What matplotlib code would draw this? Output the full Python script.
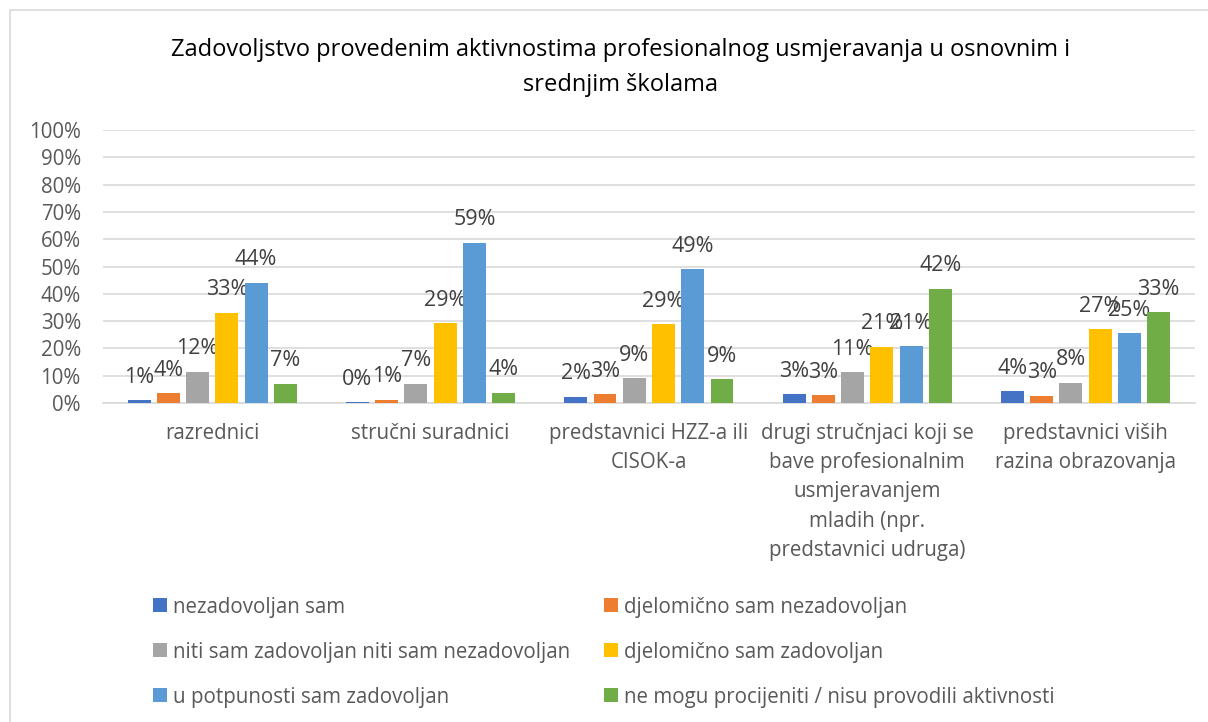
import matplotlib.pyplot as plt
import numpy as np
from matplotlib.patches import Rectangle

plt.rcParams['font.family'] = ['Open Sans', 'DejaVu Sans']

# podaci
categories = ["razrednici", "stručni suradnici", "predstavnici HZZ-a ili\nCISOK-a",
              "drugi stručnjaci koji se\nbave profesionalnim\nusmjeravanjem\nmladih (npr.\npredstavnici udruga)",
              "predstavnici viših\nrazina obrazovanja"]
series = ["nezadovoljan sam", "djelomično sam nezadovoljan",
          "niti sam zadovoljan niti sam nezadovoljan", "djelomično sam zadovoljan",
          "u potpunosti sam zadovoljan", "ne mogu procijeniti / nisu provodili aktivnosti"]
nezadovoljan = [1.0, 0.2, 2.3, 3.3, 4.3]
djel_nezadovoljan = [3.5, 1.2, 3.2, 2.8, 2.7]
niti_niti = [11.5, 7.0, 9.0, 11.3, 7.5]
djel_zadovoljan = [33.0, 29.2, 28.8, 20.7, 27.0]
potpuno = [44.0, 58.8, 49.0, 20.8, 25.5]
ne_mogu = [7.0, 3.8, 8.7, 41.8, 33.2]
labels = [["1%", "0%", "2%", "3%", "4%"],
          ["4%", "1%", "3%", "3%", "3%"],
          ["12%", "7%", "9%", "11%", "8%"],
          ["33%", "29%", "29%", "21%", "27%"],
          ["44%", "59%", "49%", "21%", "25%"],
          ["7%", "4%", "9%", "42%", "33%"]]
colors = ["#4472C4", "#ED7D31", "#A5A5A5", "#FFC000", "#5B9BD5", "#70AD47"]
values = [nezadovoljan, djel_nezadovoljan, niti_niti, djel_zadovoljan, potpuno, ne_mogu]

fig = plt.figure(figsize=(12.08, 7.22), dpi=100)
ax = fig.add_axes([0.0853, 0.4418, 0.9037, 0.378])

x = np.arange(len(categories))
slot = 0.134
width = 0.105
for i, (vals, col, name) in enumerate(zip(values, colors, series)):
    pos = x + (i - 2.5) * slot
    ax.bar(pos, vals, width, color=col, label=name, zorder=3)
    for p, v, lab in zip(pos, vals, labels[i]):
        ax.annotate(lab, (p, v), xytext=(0, 9), textcoords="offset points",
                    ha="center", va="bottom", fontsize=15.5, color="#404040")

ax.set_xlim(-0.5, len(categories) - 0.5)
ax.set_ylim(0, 100)
ax.set_yticks(range(0, 101, 10))
ax.set_yticklabels([f"{t}%" for t in range(0, 101, 10)])
ax.set_xticks(x)
ax.set_xticklabels(categories, linespacing=1.51)
ax.tick_params(axis="both", length=0, labelsize=14.8, labelcolor="#595959")
ax.tick_params(axis="x", pad=14.5)
ax.tick_params(axis="y", pad=16)
ax.grid(axis="y", color="#D9D9D9", linewidth=1.2, zorder=0)
for s in ["top", "right", "left"]:
    ax.spines[s].set_visible(False)
ax.spines["bottom"].set_color("#D9D9D9")
ax.spines["bottom"].set_linewidth(1.2)

fig.text(0.514, 0.907, "Zadovoljstvo provedenim aktivnostima profesionalnog usmjeravanja u osnovnim i\nsrednjim školama",
         ha="center", va="center", fontsize=17, color="#000000", linespacing=1.6)

handles, _ = ax.get_legend_handles_labels()
order = [0, 2, 4, 1, 3, 5]
leg = fig.legend([handles[k] for k in order], [series[k] for k in order],
                 loc="upper left", bbox_to_anchor=(0.118, 0.188), ncol=2, frameon=False,
                 fontsize=14.8, handlelength=0.68, handleheight=0.68, handletextpad=0.3,
                 labelspacing=1.17, columnspacing=1.65, borderpad=0)
for t in leg.get_texts():
    t.set_color("#595959")

fig.patches.append(Rectangle((10 / 1208, -0.01), 1.2, 1 - 10 / 722 + 0.01, transform=fig.transFigure,
                             fill=False, edgecolor="#D9D9D9", linewidth=1.2))

plt.savefig("out.png", dpi=100)
